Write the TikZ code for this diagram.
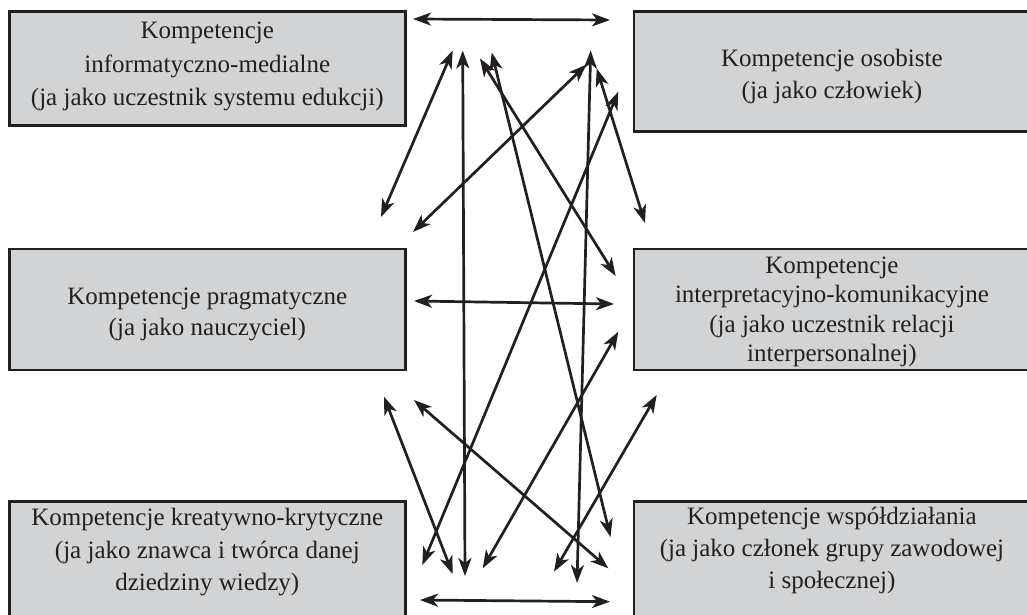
\documentclass[tikz,border=0pt]{standalone}
\usepackage{fontspec}
\setmainfont{Liberation Serif}
\usepackage{xcolor}
\usepackage{tikz}
\usetikzlibrary{arrows.meta, positioning}
\definecolor{boxgray}{RGB}{209,211,212}
\definecolor{ink}{RGB}{35,31,32}
\tikzset{
    comp/.style={
        rectangle,
        draw=ink,
        line width=2.6pt,
        fill=boxgray,
        minimum width=396pt,
        inner sep=0pt
    },
    comptext/.style={
        align=center,
        text=ink,
        inner sep=0pt,
        font=\fontsize{25}{32}\selectfont
    },
    link/.style={
        draw=ink,
        line width=2.7pt,
        {Stealth[length=18pt, width=13pt, inset=5pt]}-{Stealth[length=18pt, width=13pt, inset=5pt]}
    }
}

\begin{document}
\begin{tikzpicture}[x=1pt, y=-1pt]
\useasboundingbox (0,0) rectangle (1027,615);

% Competence boxes
\node[comp, minimum height=114pt, anchor=north west] (infmed) at (8,10) {};
\node[comp, minimum height=120pt, right=226pt of infmed.north east, anchor=north west] (osob) {};
\node[comp, minimum height=121pt, below=121pt of infmed.south west, anchor=north west] (prag) {};
\node[comp, minimum height=121pt, right=226pt of prag.north east, anchor=north west] (interp) {};
\node[comp, minimum height=140pt, below=129pt of prag.south west, anchor=north west] (kreat) {};
\node[comp, minimum height=140pt, right=226pt of kreat.north east, anchor=north west] (wspol) {};

% Box texts
\node[comptext, font=\fontsize{25}{33.5}\selectfont, below=12pt of infmed.north] (infmed_txt) {Kompetencje\\informatyczno-medialne\\(ja jako uczestnik systemu edukcji)};
\node[comptext, below=39pt of osob.north] (osob_txt) {Kompetencje osobiste\\(ja jako człowiek)};
\node[comptext, font=\fontsize{25}{31.5}\selectfont, below=40pt of prag.north] (prag_txt) {Kompetencje pragmatyczne\\(ja jako nauczyciel)};
\node[comptext, font=\fontsize{25}{29.5}\selectfont, below=9pt of interp.north] (interp_txt) {Kompetencje\\interpretacyjno-komunikacyjne\\(ja jako uczestnik relacji\\interpersonalnej)};
\node[comptext, font=\fontsize{25}{32.5}\selectfont, below=8pt of kreat.north] (kreat_txt) {Kompetencje kreatywno-krytyczne\\(ja jako znawca i twórca danej\\dziedziny wiedzy)};
\node[comptext, below=7pt of wspol.north] (wspol_txt) {Kompetencje współdziałania\\(ja jako członek grupy zawodowej\\i społecznej)};

% Arrow ends
\coordinate (a1) at (413,19);      \coordinate (b1) at (610,20);
\coordinate (a2) at (381,217);     \coordinate (b2) at (452.7,50.5);
\coordinate (a3) at (462.7,50.5);  \coordinate (b3) at (465,576);
\coordinate (a4) at (491.7,52.5);  \coordinate (b4) at (610.5,537);
\coordinate (a5) at (480,58.5);    \coordinate (b5) at (615.7,276);
\coordinate (a6) at (413,232);     \coordinate (b6) at (586.5,64.5);
\coordinate (a7) at (590.7,50.5);  \coordinate (b7) at (577,583);
\coordinate (a8) at (596.7,68.5);  \coordinate (b8) at (645,223);
\coordinate (a9) at (618.3,91.7);  \coordinate (b9) at (422.3,565);
\coordinate (a10) at (414,301);    \coordinate (b10) at (614,304);
\coordinate (a11) at (618.3,331.7); \coordinate (b11) at (482.7,568.3);
\coordinate (a12) at (384,396.7);  \coordinate (b12) at (452.7,574);
\coordinate (a13) at (414,400);    \coordinate (b13) at (608.3,568.3);
\coordinate (a14) at (656.7,395);  \coordinate (b14) at (554,571.7);
\coordinate (a15) at (420,600);    \coordinate (b15) at (610,601.7);

% Connections
\draw[link] (a1) -- (b1);
\draw[link] (a2) -- (b2);
\draw[link] (a3) -- (b3);
\draw[link] (a4) -- (b4);
\draw[link] (a5) -- (b5);
\draw[link] (a6) -- (b6);
\draw[link] (a7) -- (b7);
\draw[link] (a8) -- (b8);
\draw[link] (a9) -- (b9);
\draw[link] (a10) -- (b10);
\draw[link] (a11) -- (b11);
\draw[link] (a12) -- (b12);
\draw[link] (a13) -- (b13);
\draw[link] (a14) -- (b14);
\draw[link] (a15) -- (b15);

\end{tikzpicture}
\end{document}
